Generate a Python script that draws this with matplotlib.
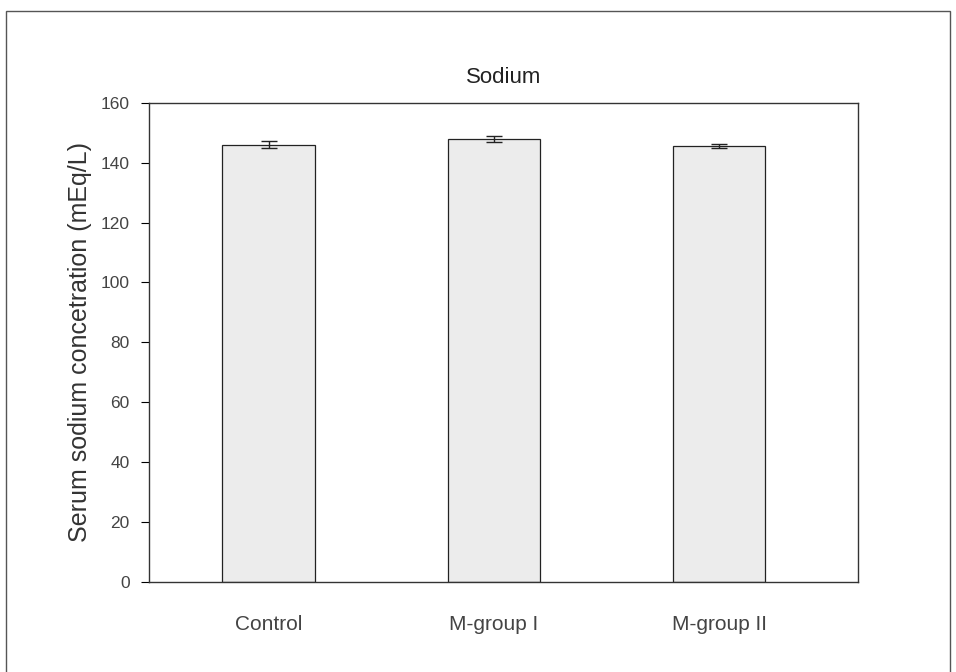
import matplotlib.pyplot as plt
from matplotlib.patches import Rectangle

plt.rcParams['font.family'] = ['Liberation Sans', 'DejaVu Sans']

groups = ["Control", "M-group I", "M-group II"]
means = [146.0, 147.8, 145.5]
errs = [1.2, 1.0, 0.6]

fig = plt.figure(figsize=(9.56, 6.72), dpi=100)
ax = fig.add_axes([0.156, 0.134, 0.741, 0.713])

# outer frame around the whole figure
fig.patches.append(Rectangle((0.006, -0.1), 0.988, 1.084, transform=fig.transFigure,
                             fill=False, edgecolor='#555555', linewidth=1.0))

x = range(len(groups))
ax.bar(x, means, width=0.41, color='#ececec', edgecolor='#222222', linewidth=0.9,
       yerr=errs, capsize=6, error_kw=dict(ecolor='#222222', elinewidth=1.0, capthick=1.0))

ax.set_xlim(-0.53, 2.614)
ax.set_ylim(0, 160)
ax.set_yticks(range(0, 161, 20))
ax.set_xticks(list(x))
ax.set_xticklabels(groups, fontsize=15, color='#444444')
ax.tick_params(axis='x', length=0, pad=24)
ax.tick_params(axis='y', direction='out', length=6, labelsize=12.5, labelcolor='#444444', pad=8)
ax.set_ylabel("Serum sodium concetration (mEq/L)", fontsize=18, color='#333333', labelpad=6)
ax.set_title("Sodium", fontsize=16, color='#222222', pad=14)
for s in ax.spines.values():
    s.set_color('#333333')
    s.set_linewidth(1.0)

fig.savefig("out.png", dpi=100)
